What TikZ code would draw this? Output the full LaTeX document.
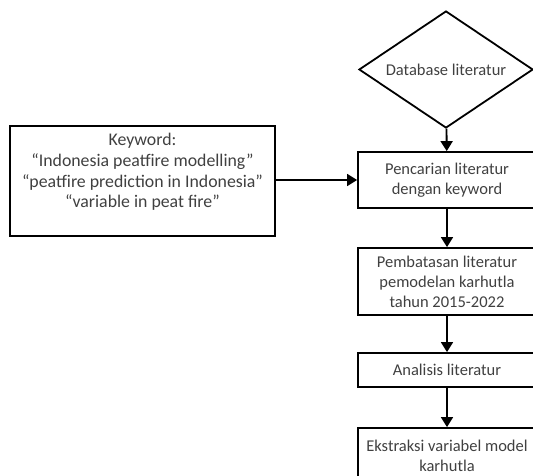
\documentclass[tikz,border=0pt]{standalone}
\usepackage{fontspec}
\setmainfont{Carlito}
\usetikzlibrary{shapes.geometric,arrows.meta,positioning}
\definecolor{textgray}{HTML}{404040}
\begin{document}
\begin{tikzpicture}[x=1pt,y=-1pt,
    every node/.style={font=\fontsize{16.5}{20}\selectfont, text=textgray},
    flowbox/.style={draw=black, line width=1.8pt, minimum width=178pt, align=center, inner sep=0pt},
    decision/.style={draw=black, line width=1.8pt, diamond, aspect=1.49, minimum width=174pt, minimum height=117pt, inner sep=0pt},
    flow/.style={-{Triangle[length=10pt,width=12pt]}, line width=1.8pt}]
  \clip (0,0) rectangle (533,476);
  % right column
  \node[decision] (database) at (446,69.5) {Database literatur};
  \node[flowbox, minimum height=56pt] (search) at (447,180) {Pencarian literatur\\dengan keyword};
  \node[flowbox, minimum height=67pt] (limit) at (447,281.5) {Pembatasan literatur\\pemodelan karhutla\\tahun 2015-2022};
  \node[flowbox, minimum height=34pt] (analysis) at (447,370) {Analisis literatur};
  \node[flowbox, minimum height=56pt] (extract) at (447,456) {Ekstraksi variabel model\\karhutla};
  % keyword box
  \node[flowbox, minimum width=265pt, minimum height=110pt] (keyword) at (142.5,181) {};
  \node[align=center, inner sep=1pt, anchor=north, yshift=-7pt,
    font=\fontsize{17.8}{20.7}\selectfont] (keywordtext) at (keyword.north)
    {Keyword:\\“Indonesia peatfire modelling”\\“peatfire prediction in Indonesia”\\“variable in peat fire”};
  \begin{scope}[flow]
    \draw (database) -- (search);
    \draw (keyword.east |- search.west) -- (search);
    \draw (search) -- (limit);
    \draw (limit) -- (analysis);
    \draw (analysis) -- (extract);
  \end{scope}
\end{tikzpicture}
\end{document}
